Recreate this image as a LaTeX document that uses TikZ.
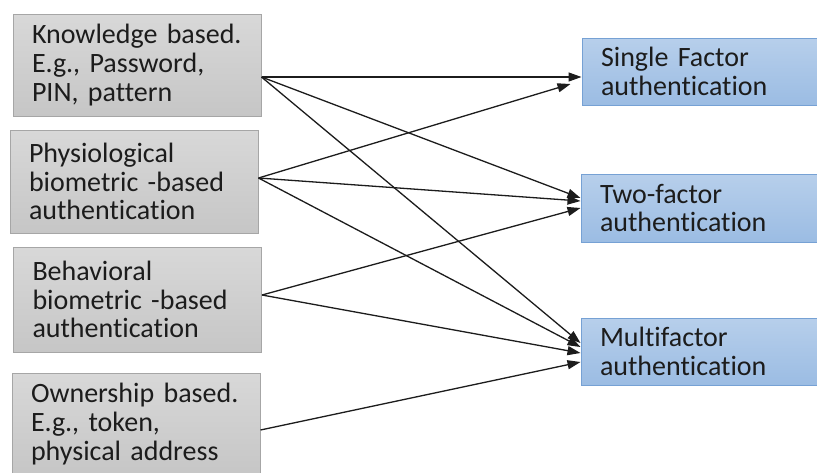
\documentclass[tikz,border=0pt]{standalone}
\usepackage{fontspec}
\setmainfont{Carlito}[RawFeature={-liga;-clig;-calt;-dlig}]
\usetikzlibrary{arrows.meta}
\definecolor{grayTop}{HTML}{D8D8D8}
\definecolor{grayBot}{HTML}{C6C6C6}
\definecolor{grayEdge}{HTML}{A6A6A6}
\definecolor{blueTop}{HTML}{B7CFEB}
\definecolor{blueBot}{HTML}{9BBCE3}
\definecolor{blueEdge}{HTML}{76A1D4}
\definecolor{ink}{HTML}{1C1C1C}
% keep "t" and "i" as separate glyphs
\newcommand{\authword}{authent\kern0pt icat\kern0pt ion}
\begin{document}
\begin{tikzpicture}[x=1pt,y=-1pt,
  boxtext/.style={align=left, inner xsep=0pt, inner ysep=0pt, text=ink,
    font=\fontsize{28}{28.7}\selectfont},
  srcbox/.style={boxtext, draw=grayEdge, line width=1pt,
    top color=grayTop, bottom color=grayBot,
    minimum width=248pt, text width=210pt},
  dstbox/.style={boxtext, draw=blueEdge, line width=1pt,
    top color=blueTop, bottom color=blueBot,
    minimum width=258pt, minimum height=67pt, text width=220pt},
  link/.style={draw=ink, line width=1.3pt,
    -{Triangle[length=13pt,width=9pt]}}]
  \useasboundingbox (0,0) rectangle (817,472);
  \fill[white] (0,0) rectangle (817,472);

  % source categories
  \node[srcbox, minimum height=102pt] (know) at (137,65)
    {Knowledge based.\\E.g., Password,\\PIN, pattern};
  \node[srcbox, minimum height=103pt] (phys) at (134,181.5)
    {Physiological\\biometric -based\\\authword};
  \node[srcbox, minimum height=105pt] (behav) at (137.5,299.5)
    {Behavioral\\biometric -based\\\authword};
  \node[srcbox, minimum height=102pt] (own) at (136,424)
    {Ownership based.\\E.g., token,\\physical address};

  % authentication schemes
  \node[dstbox] (single) at (711,71.5) {Single Factor\\\authword};
  \node[dstbox, minimum height=68pt] (two) at (710,208) {Two-factor\\\authword};
  \node[dstbox] (multi) at (710,351.5) {Mult\kern0pt ifactor\\\authword};

  % connectors
  \draw[link] ([yshift=-12pt]know.east) -- ([yshift=-5.5pt]single.west);
  \draw[link] ([yshift=-12pt]know.east) -- ([yshift=10pt]two.west);
  \draw[link] ([yshift=-12pt]know.east) -- ([yshift=8.5pt]multi.west);

  \draw[link] ([yshift=3.5pt]phys.east) -- ([xshift=-11pt,yshift=-12.5pt]single.west);
  \draw[link] ([yshift=3.5pt]phys.east) -- ([yshift=7pt]two.west);
  \draw[link] ([yshift=3.5pt]phys.east) -- ([yshift=4.5pt]multi.west);

  \draw[link] ([yshift=4.5pt]behav.east) -- (two.west);
  \draw[link] ([yshift=4.5pt]behav.east) -- ([yshift=-1.5pt]multi.west);

  \draw[link] ([yshift=-6pt]own.east) -- ([yshift=-10.5pt]multi.west);
\end{tikzpicture}
\end{document}
